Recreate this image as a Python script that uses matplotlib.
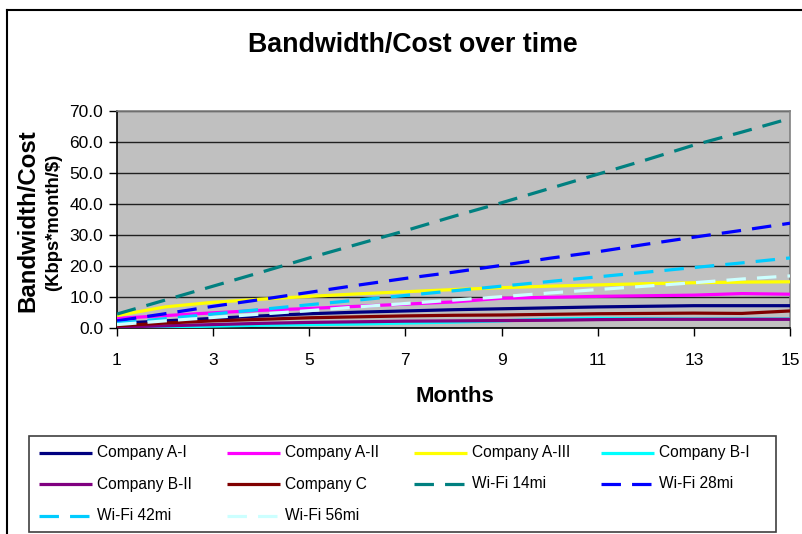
import matplotlib
matplotlib.use('Agg')
import matplotlib.pyplot as plt
from matplotlib.lines import Line2D
from matplotlib.patches import Rectangle

plt.rcParams['font.family'] = ['Liberation Sans', 'DejaVu Sans']
plt.rcParams['lines.scale_dashes'] = False

# data
months = list(range(1, 16))
series_names = ['Company A-I', 'Company A-II', 'Company A-III', 'Company B-I',
                'Company B-II', 'Company C', 'Wi-Fi 14mi', 'Wi-Fi 28mi',
                'Wi-Fi 42mi', 'Wi-Fi 56mi']
company_a1 = [1.5, 2.3, 3.1, 3.9, 4.6, 5.1, 5.5, 5.9, 6.2, 6.5, 6.8, 7.0, 7.2, 7.2, 7.2]
company_a2 = [3.1, 4.0, 4.9, 5.7, 6.3, 7.0, 7.7, 8.4, 9.6, 9.9, 10.2, 10.4, 10.6, 11.1, 10.9]
company_a3 = [4.0, 6.8, 8.3, 9.3, 10.2, 11.0, 11.7, 12.4, 13.0, 13.5, 13.9, 14.3, 14.6, 14.8, 14.9]
company_b1 = [0.0, 0.3, 0.6, 0.9, 1.1, 1.3, 1.6, 1.9, 2.3, 2.9, 3.1, 3.0, 2.9, 2.9, 2.9]
company_b2 = [0.3, 0.7, 1.1, 1.5, 1.8, 2.0, 2.2, 2.3, 2.4, 2.5, 2.7, 2.8, 2.8, 2.8, 2.8]
company_c = [0.7, 1.6, 2.3, 2.8, 3.3, 3.6, 3.9, 4.1, 4.2, 4.4, 4.6, 4.7, 4.8, 4.7, 5.5]
wifi_14 = [4.5, 9.0, 13.5, 18.0, 22.6, 27.0, 31.4, 36.0, 40.4, 45.0, 49.6, 54.2, 59.0, 63.2, 67.6]
wifi_28 = [2.3, 4.6, 7.0, 9.2, 11.5, 13.8, 16.0, 18.0, 20.2, 22.5, 24.6, 27.0, 29.3, 31.5, 33.8]
wifi_42 = [1.5, 3.0, 4.5, 6.0, 7.5, 9.0, 10.5, 12.0, 13.5, 15.0, 16.5, 18.0, 19.5, 21.0, 22.6]
wifi_56 = [1.1, 2.3, 3.4, 4.5, 5.6, 6.8, 7.9, 9.0, 10.1, 11.3, 12.4, 13.5, 14.6, 15.8, 16.8]
y_ticks = [0, 10, 20, 30, 40, 50, 60, 70]
x_ticks = [1, 3, 5, 7, 9, 11, 13, 15]

all_values = [company_a1, company_a2, company_a3, company_b1, company_b2,
              company_c, wifi_14, wifi_28, wifi_42, wifi_56]
colors = ['#000080', '#FF00FF', '#FFFF00', '#00FFFF', '#800080',
          '#800000', '#008080', '#0000FF', '#00CCFF', '#CCFFFF']
dash = (0, (14, 8))
styles = ['-'] * 6 + [dash] * 4

W, H = 803, 534
def fx(px):
    return px / W
def fy(py):
    return 1 - py / H

fig = plt.figure(figsize=(W / 100, H / 100), dpi=100)
ax = fig.add_axes([fx(117), fy(328), fx(790) - fx(117), fy(111) - fy(328)])
ax.set_facecolor('#C0C0C0')

for i in range(len(series_names)):
    ax.plot(months, all_values[i], color=colors[i], linestyle=styles[i],
            linewidth=2.3, solid_capstyle='butt', dash_capstyle='butt',
            zorder=3 + i)

ax.set_xlim(1, 15)
ax.set_ylim(0, 70)
ax.set_xticks(x_ticks)
ax.set_yticks(y_ticks)
ax.set_yticklabels(['%.1f' % v for v in y_ticks])
ax.tick_params(axis='both', direction='out', length=6, width=1, labelsize=12.5,
               colors='black', pad=4)
ax.tick_params(axis='x', pad=12)
ax.grid(axis='y', color='#202020', linewidth=1)
ax.set_axisbelow(True)
for s in ['top', 'right']:
    ax.spines[s].set_color('#808080')
    ax.spines[s].set_linewidth(1.2)
for s in ['left', 'bottom']:
    ax.spines[s].set_color('black')
    ax.spines[s].set_linewidth(1.2)

fig.text(fx(413), fy(45), 'Bandwidth/Cost over time', ha='center', va='center',
         fontsize=19.3, fontweight='bold')
fig.text(fx(28), fy(221), 'Bandwidth/Cost', ha='center', va='center',
         rotation=90, fontsize=17.3, fontweight='bold')
fig.text(fx(54), fy(222), '(Kbps*month/$)', ha='center', va='center',
         rotation=90, fontsize=13.3, fontweight='bold')
fig.text(fx(455), fy(396), 'Months', ha='center', va='center',
         fontsize=16, fontweight='bold')

# chart-area border (only top and left edges visible in the reference)
fig.add_artist(Line2D([fx(7), fx(803)], [fy(10), fy(10)], color='black', linewidth=1.5))
fig.add_artist(Line2D([fx(7), fx(7)], [fy(10), fy(534)], color='black', linewidth=1.5))

# legend box with equal width columns
fig.add_artist(Rectangle((fx(29), fy(532)), fx(776) - fx(29), fy(436) - fy(532),
                         transform=fig.transFigure, facecolor='white',
                         edgecolor='#404040', linewidth=1.2))
col_x = [39, 227, 414, 601]
row_y = [453, 484, 516]
for i, name in enumerate(series_names):
    cx = col_x[i % 4]
    cy = row_y[i // 4]
    fig.add_artist(Line2D([fx(cx), fx(cx + 53)], [fy(cy), fy(cy)], color=colors[i],
                          linestyle=styles[i], linewidth=2.3,
                          solid_capstyle='butt', dash_capstyle='butt'))
    fig.text(fx(cx + 58), fy(cy), name, ha='left', va='center', fontsize=11.2)

fig.savefig('out.png', dpi=100)
